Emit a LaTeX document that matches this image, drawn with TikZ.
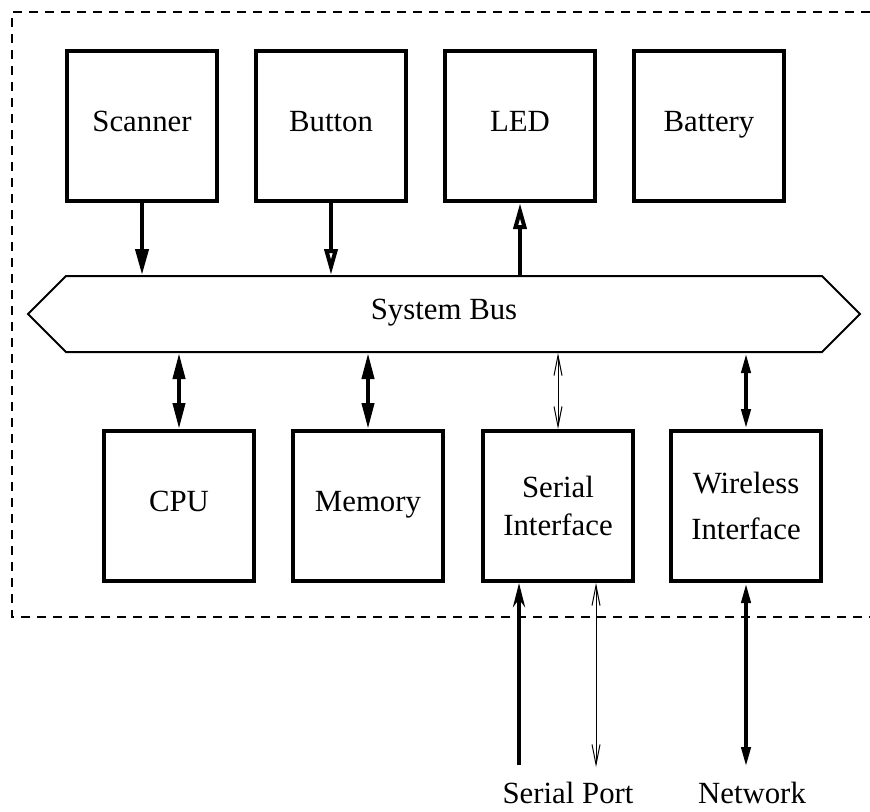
\documentclass[tikz,border=0pt]{standalone}
\usepackage{fontspec}
\setmainfont{Liberation Serif}
\usetikzlibrary{arrows.meta,shapes.symbols}

\begin{document}
\begin{tikzpicture}[x=0.5pt,y=-0.5pt,
    unit/.style={draw,line width=2pt,minimum width=75pt,minimum height=75pt,
      align=center,font=\fontsize{15.4}{19}\selectfont},
    one line/.style={text height=0.8em,text depth=0.3em},
    link/.style={line width=2pt},
    thin link/.style={line width=0.5pt},
    full/.style={-{Triangle[length=13pt,width=6.5pt]}},
    hollow/.style={-{Triangle[open,length=13pt,width=6.5pt]}}]
  \useasboundingbox (0,0) rectangle (870,811);

  %Frame
  \draw[line width=1pt,dash pattern=on 4.5pt off 3.5pt] (870,12) -- (12,12) -- (12,617) -- (870,617);

  \node[unit,one line] (scanner) at (142,126) {Scanner};
  \node[unit,one line] (button) at (331,126) {Button};
  \node[unit,one line] (led) at (520,126) {LED};
  \node[unit,one line] (battery) at (709,126) {Battery};

  \node[draw,line width=1pt,shape=signal,signal to=west and east,signal pointer angle=90,one line,
    minimum width=416pt,minimum height=38pt,font=\fontsize{15.4}{19}\selectfont] (bus) at (444,314) {System Bus};

  \node[unit,one line] (cpu) at (179,506) {CPU};
  \node[unit,one line] (memory) at (368,506) {Memory};
  \node[unit] (serial) at (558,506) {Serial\\Interface};
  \node[unit] (wireless) at (746,506) {Wireless\\[4pt]Interface};

  \draw[link,full] (scanner) -- (scanner |- bus.north);
  \draw[link,hollow] (button) -- (button |- bus.north);
  \draw[link,hollow] (led |- bus.north) -- (led);

  \draw[link,{Triangle[length=13pt,width=6pt]}-{Triangle[length=13pt,width=6pt]}] (cpu |- bus.south) -- (cpu);
  \draw[link,{Triangle[length=13pt,width=6pt]}-{Triangle[length=13pt,width=6pt]}] (memory |- bus.south) -- (memory);
  \draw[thin link,{Straight Barb[length=10pt,width=4pt]}-{Straight Barb[length=10pt,width=4pt]}] (serial |- bus.south) -- (serial);
  \draw[link,{Triangle[length=10pt,width=4.5pt]}-{Triangle[length=10pt,width=4.5pt]}] (wireless |- bus.south) -- (wireless);

  %Outside
  \coordinate (sp1) at (519,765);
  \coordinate (sp2) at (596,767);
  \coordinate (nw) at (746,767);
  \node[font=\fontsize{15.4}{19}\selectfont,anchor=base] (port) at (568,803) {Serial Port};
  \node[font=\fontsize{15.4}{19}\selectfont,anchor=base] (network) at (752,803) {Network};

  \draw[link,-{Stealth[open,length=12pt,width=6pt]}] (sp1) -- (sp1 |- serial.south);
  \draw[thin link,{Straight Barb[length=10pt,width=4pt]}-{Straight Barb[length=10pt,width=4pt]}] (sp2) -- (sp2 |- serial.south);
  \draw[link,{Triangle[length=10pt,width=4.5pt]}-{Triangle[length=10pt,width=4.5pt]}] (nw) -- (wireless);
\end{tikzpicture}
\end{document}
